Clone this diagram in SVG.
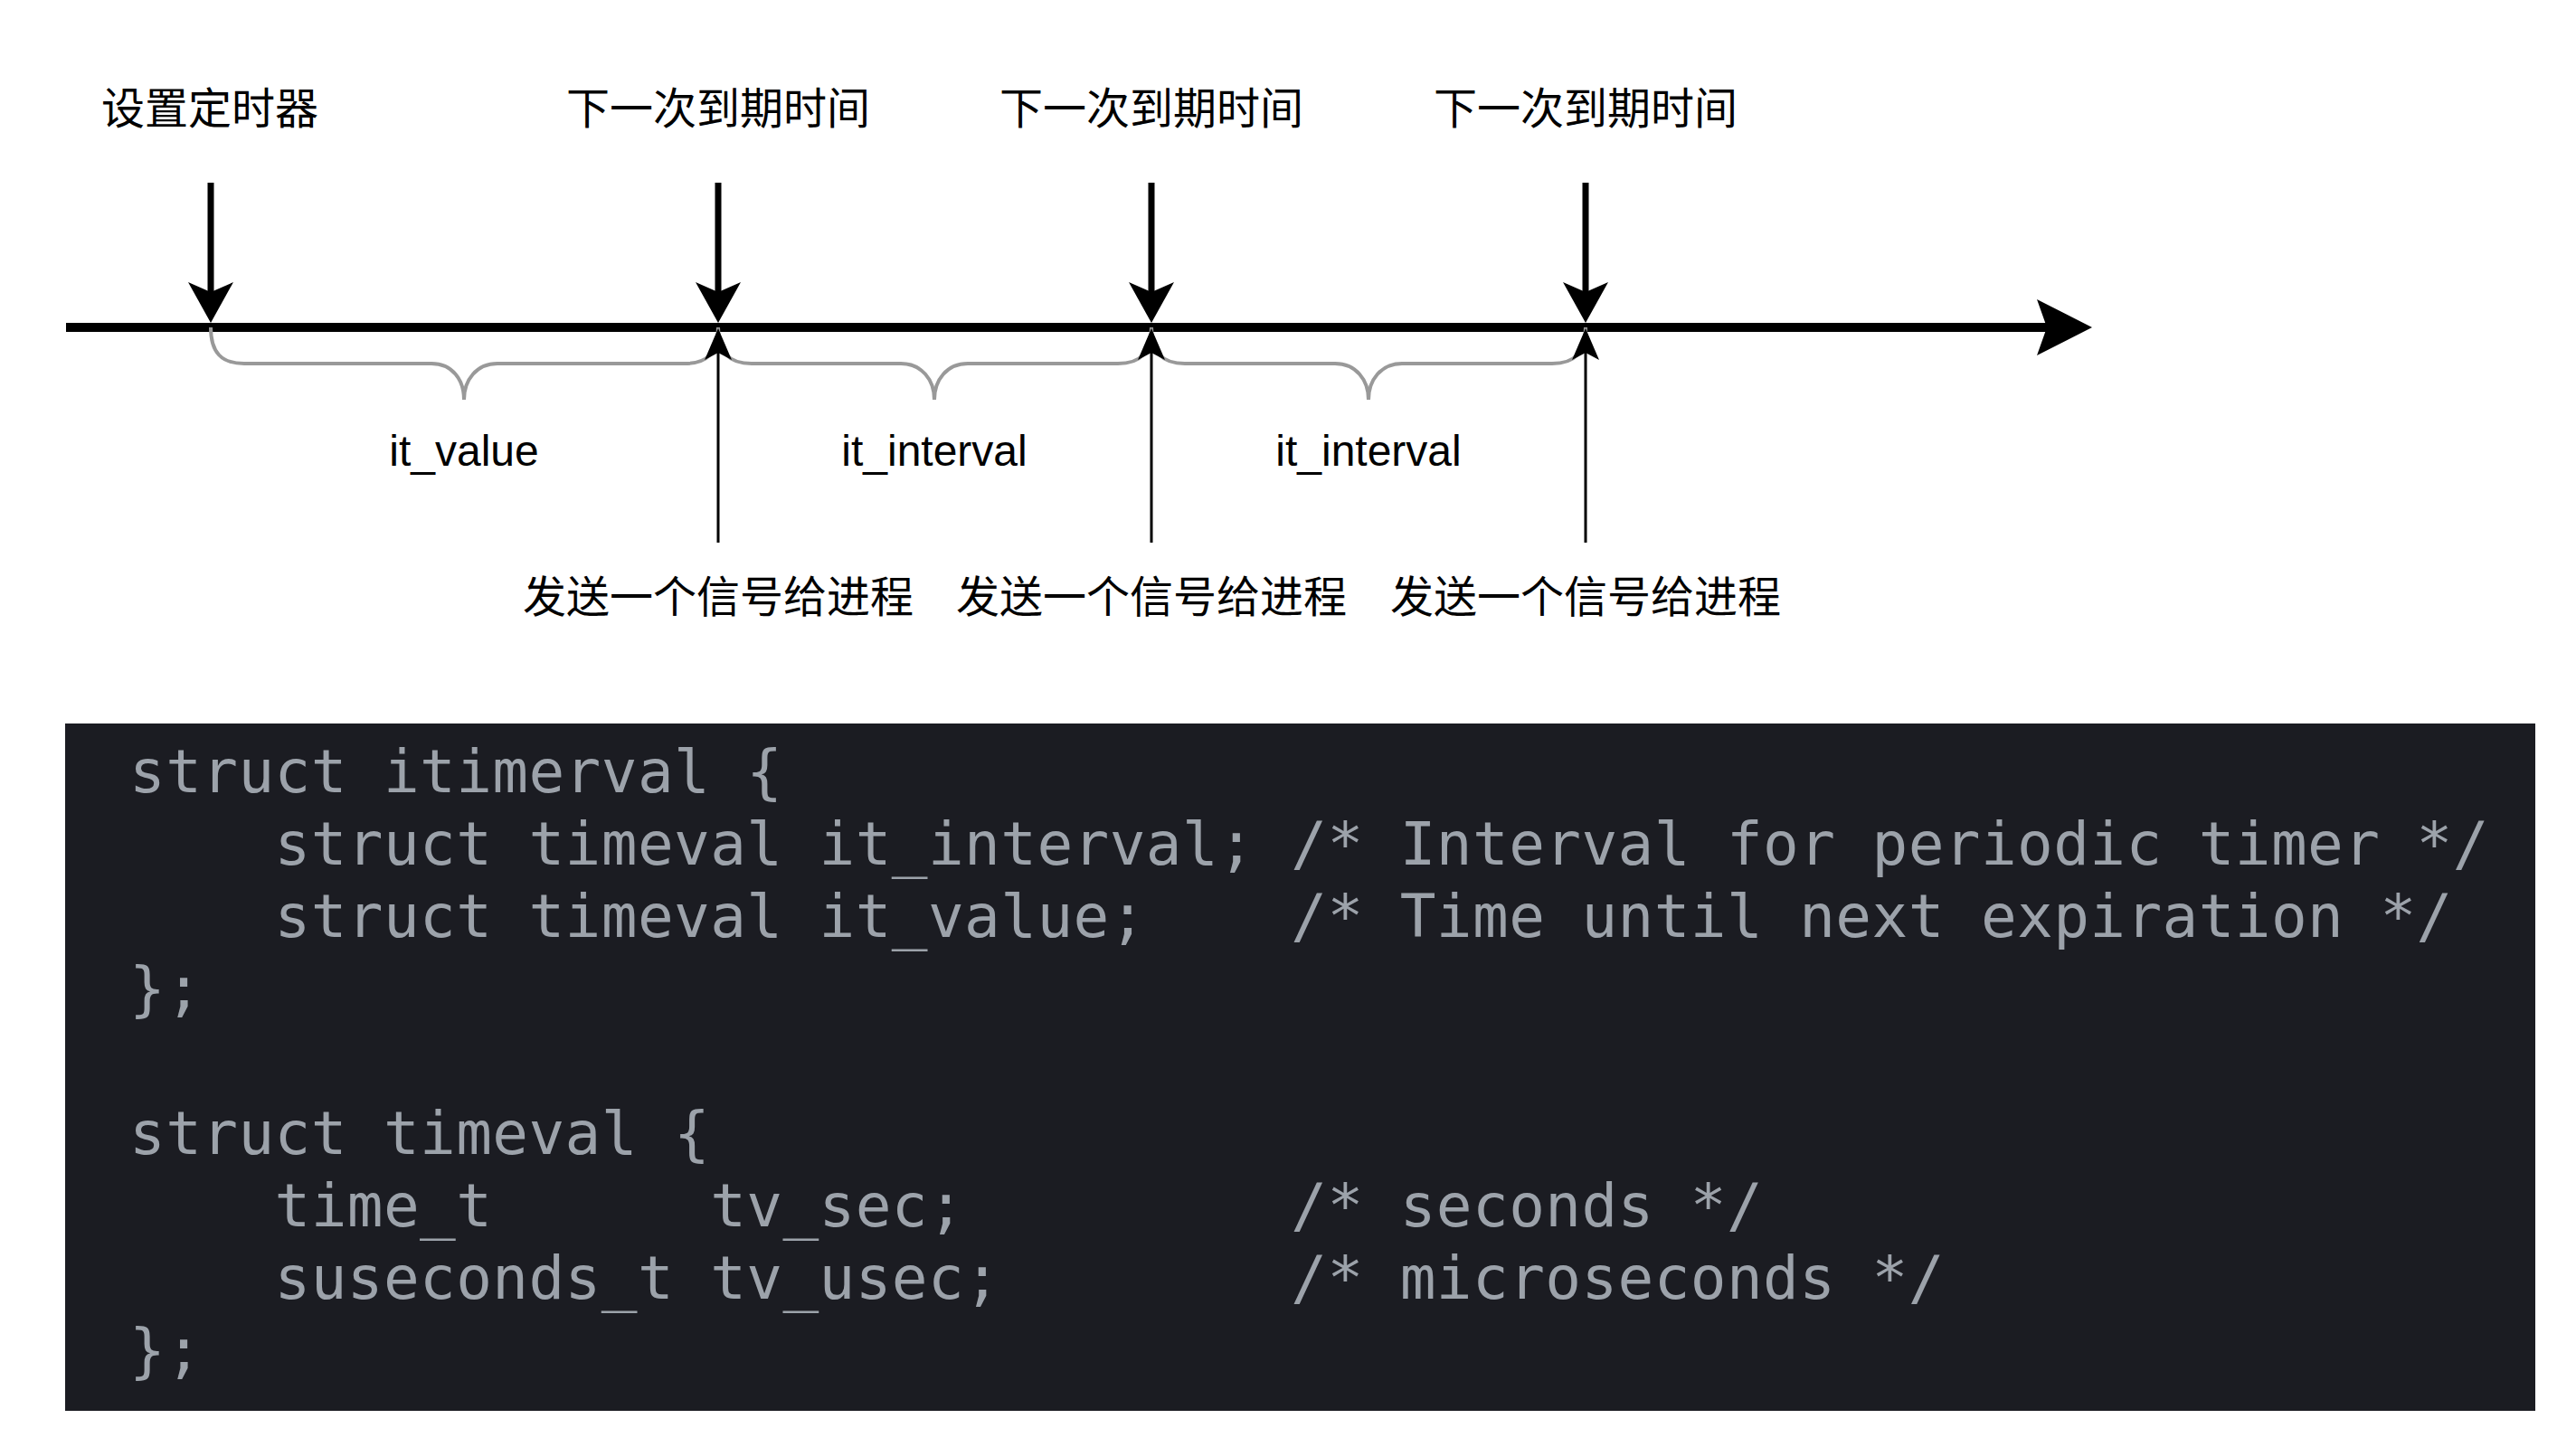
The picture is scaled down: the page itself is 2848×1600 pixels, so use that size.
<svg xmlns="http://www.w3.org/2000/svg" width="2848" height="1600" viewBox="0 0 2848 1600">
<style>
.cjk{font-family:"Noto Sans CJK SC","Noto Sans",sans-serif;font-size:48px;fill:#000;text-anchor:middle}
.lbl{font-family:"Liberation Sans",Arial,sans-serif;font-size:48px;fill:#000;text-anchor:middle}
.code{font-family:"DejaVu Sans Mono",monospace;font-size:66px;letter-spacing:0.4px;fill:#9ca2aa;white-space:pre}
.brace{fill:none;stroke:#999999;stroke-width:4}
.down{stroke:#000;stroke-width:7;fill:none}
.up{stroke:#000;stroke-width:3;fill:none}
</style>
<defs>
<marker id="mDown" markerUnits="userSpaceOnUse" viewBox="-15 -30 55 60" markerWidth="55" markerHeight="60" refX="0" refY="0" orient="auto" overflow="visible">
<path d="M34,0 L-11,-25 L0,0 L-11,25 Z" fill="#000"/>
</marker>
<marker id="mUp" markerUnits="userSpaceOnUse" viewBox="-10 -20 40 40" markerWidth="40" markerHeight="40" refX="0" refY="0" orient="auto" overflow="visible">
<path d="M27,0 L-8,-15 L0,0 L-8,15 Z" fill="#000"/>
</marker>
<marker id="mAxis" markerUnits="userSpaceOnUse" viewBox="-15 -35 70 70" markerWidth="70" markerHeight="70" refX="0" refY="0" orient="auto" overflow="visible">
<path d="M50,0 L-11,-31 L0,0 L-11,31 Z" fill="#000"/>
</marker>
</defs>
<rect width="2848" height="1600" fill="#ffffff"/>

<g id="connectors">
<line x1="73" y1="362" x2="2263" y2="362" stroke="#000" stroke-width="10" marker-end="url(#mAxis)"/>
<line class="down" x1="233" y1="202" x2="233" y2="323" marker-end="url(#mDown)"/>
<line class="down" x1="794" y1="202" x2="794" y2="323" marker-end="url(#mDown)"/>
<line class="down" x1="1273" y1="202" x2="1273" y2="323" marker-end="url(#mDown)"/>
<line class="down" x1="1753" y1="202" x2="1753" y2="323" marker-end="url(#mDown)"/>
<path class="brace" d="M233,362 C233,390 245,402 270,402 L477,402 C500,402 513,420 513,442 C513,420 527,402 550,402 L757,402 C782,402 794,390 794,362"/>
<path class="brace" d="M794,362 C794,390 806,402 831,402 L996,402 C1019,402 1033,420 1033,442 C1033,420 1047,402 1070,402 L1236,402 C1261,402 1273,390 1273,362"/>
<path class="brace" d="M1273,362 C1273,390 1285,402 1310,402 L1476,402 C1499,402 1513,420 1513,442 C1513,420 1527,402 1550,402 L1716,402 C1741,402 1753,390 1753,362"/>
<line class="up" x1="794" y1="600" x2="794" y2="390" marker-end="url(#mUp)"/>
<line class="up" x1="1273" y1="600" x2="1273" y2="390" marker-end="url(#mUp)"/>
<line class="up" x1="1753" y1="600" x2="1753" y2="390" marker-end="url(#mUp)"/>
</g>

<g id="label-set"><text class="cjk" x="232" y="137">设置定时器</text></g>
<g id="label-next1"><text class="cjk" x="794" y="137">下一次到期时间</text></g>
<g id="label-next2"><text class="cjk" x="1273" y="137">下一次到期时间</text></g>
<g id="label-next3"><text class="cjk" x="1753" y="137">下一次到期时间</text></g>

<g id="label-value"><text class="lbl" x="513" y="515">it_value</text></g>
<g id="label-interval1"><text class="lbl" x="1033" y="515">it_interval</text></g>
<g id="label-interval2"><text class="lbl" x="1513" y="515">it_interval</text></g>

<g id="label-signal1"><text class="cjk" x="794" y="677">发送一个信号给进程</text></g>
<g id="label-signal2"><text class="cjk" x="1273" y="677">发送一个信号给进程</text></g>
<g id="label-signal3"><text class="cjk" x="1753" y="677">发送一个信号给进程</text></g>

<g id="code">
<rect x="72" y="800" width="2731" height="760" fill="#1b1c22"/>
<text class="code" xml:space="preserve" x="143" y="876">struct itimerval {</text>
<text class="code" xml:space="preserve" x="143" y="956">    struct timeval it_interval; /* Interval for periodic timer */</text>
<text class="code" xml:space="preserve" x="143" y="1036">    struct timeval it_value;    /* Time until next expiration */</text>
<text class="code" xml:space="preserve" x="143" y="1116">};</text>
<text class="code" xml:space="preserve" x="143" y="1276">struct timeval {</text>
<text class="code" xml:space="preserve" x="143" y="1356">    time_t      tv_sec;         /* seconds */</text>
<text class="code" xml:space="preserve" x="143" y="1436">    suseconds_t tv_usec;        /* microseconds */</text>
<text class="code" xml:space="preserve" x="143" y="1516">};</text>
</g>
</svg>
